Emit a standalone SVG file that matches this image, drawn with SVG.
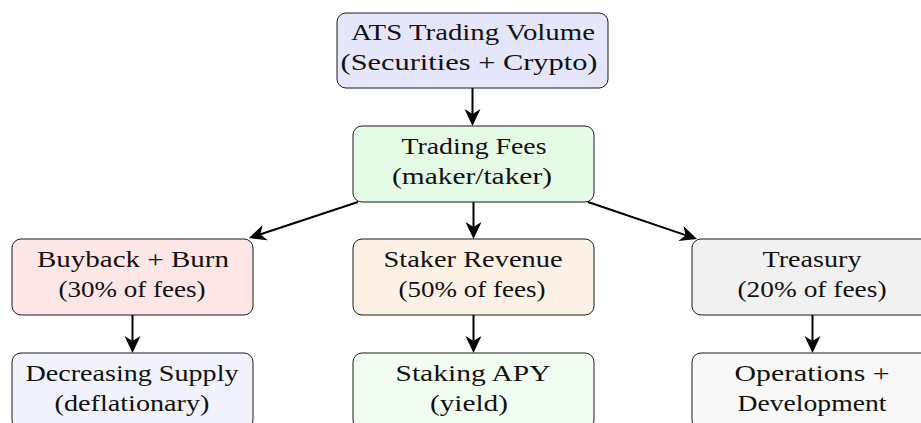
<svg xmlns="http://www.w3.org/2000/svg" width="921" height="423" viewBox="0 0 921 423">
  <style>
    .box { stroke: #1a1a1a; stroke-width: 1; }
    .lbl { font-family: "Liberation Serif", "Times New Roman", serif; font-size: 24px; fill: #111; text-anchor: middle; }
    .edge { stroke: #000; stroke-width: 2; fill: none; }
  </style>
  <defs>
    <marker id="ah" markerUnits="userSpaceOnUse" markerWidth="22" markerHeight="18" viewBox="0 -9 22 18" refX="9" refY="0" orient="auto">
      <path d="M18,0 L1,-8 L6,0 L1,8 Z" fill="#000"/>
    </marker>
  </defs>
  <rect width="921" height="423" fill="#fff"/>

  <g id="volume">
    <rect class="box" x="337" y="13" width="271" height="75" rx="9" fill="#e6e6fb"/>
    <text class="lbl" x="473" y="40" textLength="244" lengthAdjust="spacingAndGlyphs">ATS Trading Volume</text>
    <text class="lbl" x="469" y="70" textLength="257" lengthAdjust="spacingAndGlyphs">(Securities + Crypto)</text>
  </g>

  <g id="fees">
    <rect class="box" x="353" y="126" width="241" height="76" rx="9" fill="#e6fbe6"/>
    <text class="lbl" x="474" y="154" textLength="145" lengthAdjust="spacingAndGlyphs">Trading Fees</text>
    <text class="lbl" x="472" y="184" textLength="160" lengthAdjust="spacingAndGlyphs">(maker/taker)</text>
  </g>

  <g id="buyback">
    <rect class="box" x="12" y="239" width="241" height="76" rx="9" fill="#fde6e6"/>
    <text class="lbl" x="133" y="267" textLength="192" lengthAdjust="spacingAndGlyphs">Buyback + Burn</text>
    <text class="lbl" x="132" y="297" textLength="147" lengthAdjust="spacingAndGlyphs">(30% of fees)</text>
  </g>

  <g id="staker">
    <rect class="box" x="353" y="239" width="241" height="76" rx="9" fill="#fdf1e6"/>
    <text class="lbl" x="473" y="267" textLength="179" lengthAdjust="spacingAndGlyphs">Staker Revenue</text>
    <text class="lbl" x="472" y="297" textLength="147" lengthAdjust="spacingAndGlyphs">(50% of fees)</text>
  </g>

  <g id="treasury">
    <rect class="box" x="692" y="239" width="241" height="76" rx="9" fill="#f1f1f1"/>
    <text class="lbl" x="812" y="267" textLength="99" lengthAdjust="spacingAndGlyphs">Treasury</text>
    <text class="lbl" x="812" y="297" textLength="149" lengthAdjust="spacingAndGlyphs">(20% of fees)</text>
  </g>

  <g id="supply">
    <rect class="box" x="12" y="353" width="241" height="76" rx="9" fill="#f2f2fd"/>
    <text class="lbl" x="132" y="381" textLength="213" lengthAdjust="spacingAndGlyphs">Decreasing Supply</text>
    <text class="lbl" x="132" y="411" textLength="155" lengthAdjust="spacingAndGlyphs">(deflationary)</text>
  </g>

  <g id="apy">
    <rect class="box" x="353" y="353" width="241" height="76" rx="9" fill="#f2fdf2"/>
    <text class="lbl" x="473" y="381" textLength="155" lengthAdjust="spacingAndGlyphs">Staking APY</text>
    <text class="lbl" x="469" y="411" textLength="78" lengthAdjust="spacingAndGlyphs">(yield)</text>
  </g>

  <g id="operations">
    <rect class="box" x="692" y="353" width="241" height="76" rx="9" fill="#f8f8f8"/>
    <text class="lbl" x="812" y="381" textLength="155" lengthAdjust="spacingAndGlyphs">Operations +</text>
    <text class="lbl" x="812" y="411" textLength="149" lengthAdjust="spacingAndGlyphs">Development</text>
  </g>

  <g id="connectors">
    <line class="edge" x1="472.5" y1="88" x2="472.5" y2="117" marker-end="url(#ah)"/>
    <line class="edge" x1="358" y1="202" x2="257.5" y2="235.2" marker-end="url(#ah)"/>
    <line class="edge" x1="473.5" y1="202" x2="473.5" y2="230" marker-end="url(#ah)"/>
    <line class="edge" x1="588" y1="202" x2="688.5" y2="236.1" marker-end="url(#ah)"/>
    <line class="edge" x1="132.5" y1="315" x2="132.5" y2="344" marker-end="url(#ah)"/>
    <line class="edge" x1="473.5" y1="315" x2="473.5" y2="344" marker-end="url(#ah)"/>
    <line class="edge" x1="812.5" y1="315" x2="812.5" y2="344" marker-end="url(#ah)"/>
  </g>
</svg>
